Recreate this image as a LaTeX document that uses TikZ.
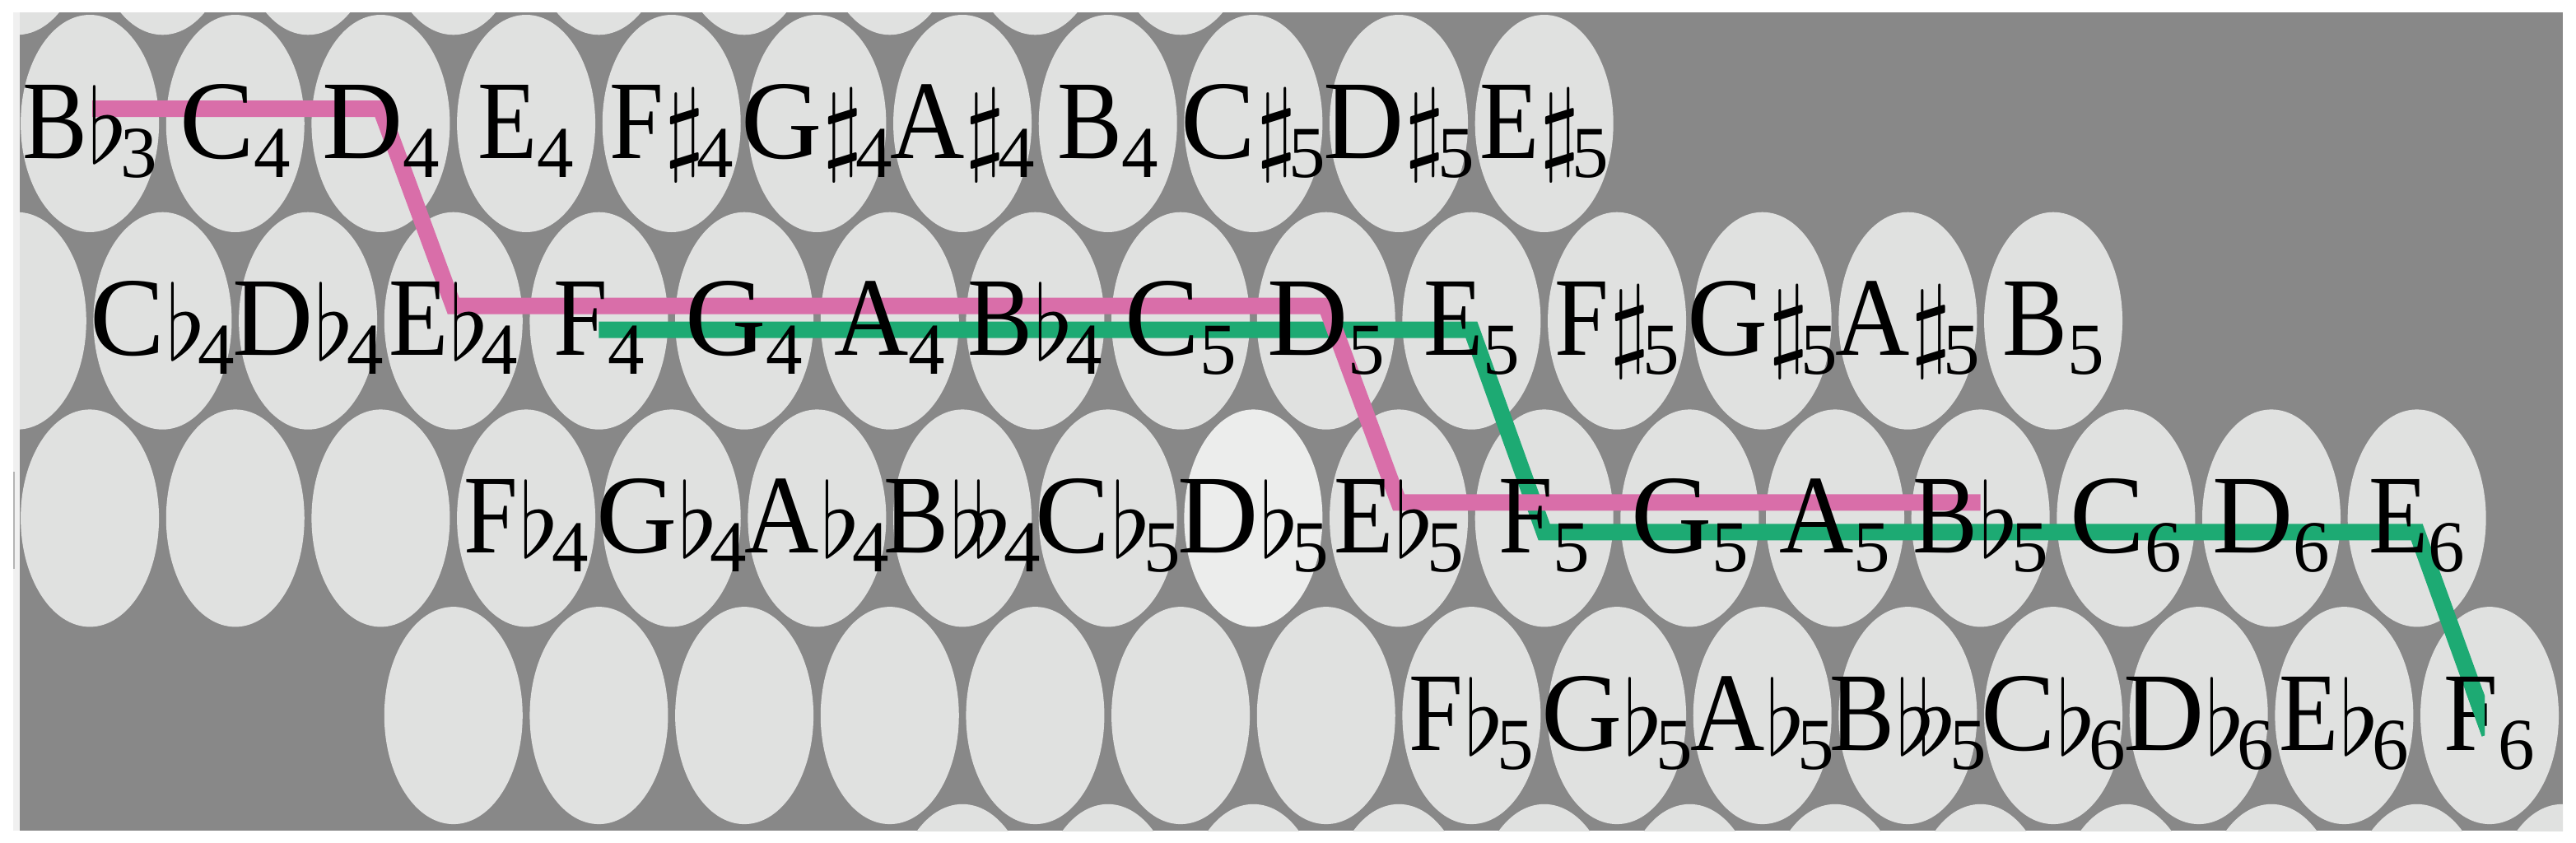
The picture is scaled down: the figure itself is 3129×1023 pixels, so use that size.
\documentclass[tikz,border=0pt]{standalone}
\usepackage{fontspec}
\setmainfont{Liberation Serif}
\usepackage{graphicx}
\usetikzlibrary{shapes.geometric,calc}

\definecolor{bgray}{HTML}{888888}
\definecolor{btnfill}{HTML}{E0E1E0}
\definecolor{btnhi}{HTML}{ECEDEC}
\definecolor{pinkline}{HTML}{D96EA9}
\definecolor{greenline}{HTML}{1DAA73}
\definecolor{stripc}{HTML}{F0F0F0}
\definecolor{sliverc}{HTML}{B4B4B4}

\newcommand\accn{}
\newcommand\accf{\kern1pt\raisebox{-5pt}{\scalebox{12.5}{\fontsize{10}{12}\selectfont$\flat$}}\kern-9pt}
\newcommand\accs{\kern1pt\raisebox{-3pt}{\scalebox{12.5}{\fontsize{10}{12}\selectfont$\sharp$}}\kern-9pt}
\newcommand\accd{\kern1pt\raisebox{-5pt}{\scalebox{12.5}{\fontsize{10}{12}\selectfont$\flat$}}\kern-22pt\raisebox{-5pt}{\scalebox{12.5}{\fontsize{10}{12}\selectfont$\flat$}}\kern-9pt}
% horizontal scale of each capital, to mimic the narrower caps of the reference
\newcommand\sclA{0.92}
\newcommand\sclB{0.87}
\newcommand\sclC{1}
\newcommand\sclD{1}
\newcommand\sclE{0.87}
\newcommand\sclF{0.87}
\newcommand\sclG{1}
\newcommand\notelab[3]{\fontsize{136}{136}\selectfont\scalebox{\csname scl#1\endcsname}[1]{#1}#2\raisebox{-23pt}{\fontsize{89}{89}\selectfont #3}}

\tikzset{
  btn/.style={ellipse, minimum width=168pt, minimum height=264pt, inner sep=0pt, fill=btnfill},
  lab/.style={anchor=base, inner sep=0pt, text=black},
  pinkpath/.style={draw=pinkline, line width=20pt, miter limit=20, line join=miter},
  greenpath/.style={draw=greenline, line width=20pt, miter limit=20, line join=miter}
}

\begin{document}
\begin{tikzpicture}[x=1pt, y=-1pt]
\useasboundingbox (0,0) rectangle (3129,1023);
\fill[white] (0,0) rectangle (3129,1023);
\fill[stripc] (16,15) rectangle (24,1009);
\fill[sliverc] (16,573) rectangle (18,691);
\fill[bgray] (24,15) rectangle (3113,1009);

% buttons
\begin{scope}
\clip (24,15) rectangle (3113,1009);
\foreach \r/\yy/\bx/\ka/\kb in {0/-89.7/20.8/0/8, 1/150/109.1/0/10, 2/389.7/20.8/0/14, 4/869.1/20.8/3/17, 5/1108.8/109.1/6/17} {
  \foreach \k in {\ka,...,\kb} {
    \node[btn] (e-\r-\k) at ({\bx+176.66*\k}, \yy) {};
  }
}
\foreach \k in {0,...,7,9,10,...,16} {
  \node[btn] (e-3-\k) at ({109.1+176.66*\k}, 629.4) {};
}
\node[btn, fill=btnhi] (e-3-8) at ({109.1+176.66*8}, 629.4) {};
\end{scope}

% green route (under the labels)
\begin{scope}
\clip (0,0) rectangle (3018,1023);
\draw[greenpath] ($(e-2-4)+(0,11)$) -- ($(e-2-10)+(0,11)$) -- ($(e-3-10)+(0,17)$) -- ($(e-3-16)+(0,17)$) -- ($(e-4-17)+(0,22)$);
\end{scope}

% pink route (under the labels)
\draw[pinkpath] ($(e-1-0)+(3,-18)$) -- ($(e-1-2)+(0,-18)$) -- ($(e-2-3)+(0,-18)$) -- ($(e-2-9)+(0,-18)$) -- ($(e-3-9)+(0,-19)$) -- ($(e-3-13)+(0,-19)$);

% labels
\foreach \k/\n/\a/\o in {0/B/f/3, 1/C/n/4, 2/D/n/4, 3/E/n/4, 4/F/s/4, 5/G/s/4, 6/A/s/4, 7/B/n/4, 8/C/s/5, 9/D/s/5, 10/E/s/5} {
  \node[lab] (l-1-\k) at ($(e-1-\k)+(0,42)$) {\notelab{\n}{\csname acc\a\endcsname}{\o}};
}
\foreach \k/\n/\a/\o in {1/C/f/4, 2/D/f/4, 3/E/f/4, 4/F/n/4, 5/G/n/4, 6/A/n/4, 7/B/f/4, 8/C/n/5, 9/D/n/5, 10/E/n/5, 11/F/s/5, 12/G/s/5, 13/A/s/5, 14/B/n/5} {
  \node[lab] (l-2-\k) at ($(e-2-\k)+(0,42)$) {\notelab{\n}{\csname acc\a\endcsname}{\o}};
}
\foreach \k/\n/\a/\o in {3/F/f/4, 4/G/f/4, 5/A/f/4, 6/B/d/4, 7/C/f/5, 8/D/f/5, 9/E/f/5, 10/F/n/5, 11/G/n/5, 12/A/n/5, 13/B/f/5, 14/C/n/6, 15/D/n/6, 16/E/n/6} {
  \node[lab] (l-3-\k) at ($(e-3-\k)+(0,42)$) {\notelab{\n}{\csname acc\a\endcsname}{\o}};
}
\foreach \k/\n/\a/\o in {10/F/f/5, 11/G/f/5, 12/A/f/5, 13/B/d/5, 14/C/f/6, 15/D/f/6, 16/E/f/6, 17/F/n/6} {
  \node[lab] (l-4-\k) at ($(e-4-\k)+(0,42)$) {\notelab{\n}{\csname acc\a\endcsname}{\o}};
}

% the green end crosses over the F of F6
\begin{scope}
\clip (2960,840) rectangle (3018,1023);
\draw[greenpath] ($(e-2-4)+(0,11)$) -- ($(e-2-10)+(0,11)$) -- ($(e-3-10)+(0,17)$) -- ($(e-3-16)+(0,17)$) -- ($(e-4-17)+(0,22)$);
\end{scope}
\end{tikzpicture}
\end{document}
